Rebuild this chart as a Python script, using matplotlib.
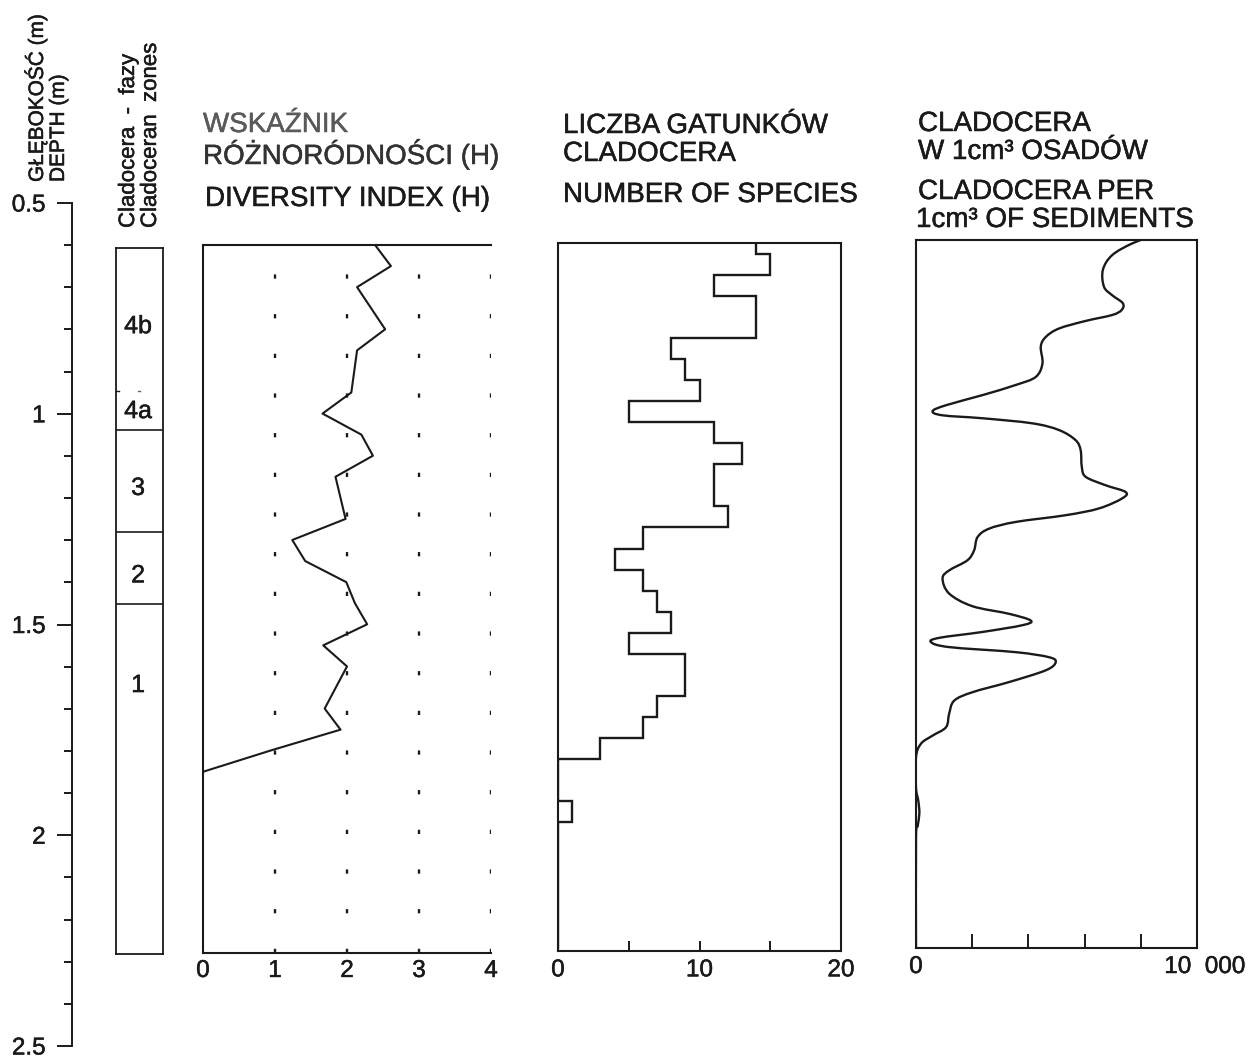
import matplotlib
matplotlib.use("Agg")
import matplotlib.pyplot as plt
import matplotlib.transforms as mtransforms
import matplotlib.patheffects as pe
from matplotlib.path import Path
from matplotlib.patches import PathPatch
from matplotlib.ticker import MultipleLocator

plt.rcParams['font.family'] = ['Liberation Sans', 'DejaVu Sans']

# ---------------- data ----------------
depth_ticks = [0.5, 1.0, 1.5, 2.0, 2.5]
depth_tick_labels = ['0.5', '1', '1.5', '2', '2.5']

zone_names = ['4b', '4a', '3', '2', '1']
zone_label_depths = [0.786, 0.988, 1.171, 1.379, 1.640]
zone_boundaries = [1.033, 1.276, 1.448]
zone_sub_boundary = 0.940

diversity_depth = [0.60, 0.65, 0.70, 0.80, 0.85, 0.95, 1.00, 1.05, 1.10, 1.15,
                   1.25, 1.30, 1.35, 1.40, 1.45, 1.50, 1.55, 1.60, 1.70, 1.75,
                   1.80, 1.85]
diversity_h = [2.39, 2.61, 2.14, 2.53, 2.14, 2.06, 1.66, 2.20, 2.36, 1.84,
               1.98, 1.24, 1.42, 1.99, 2.11, 2.28, 1.67, 2.00, 1.69, 1.91,
               0.93, 0.00]
diversity_ticks = [0, 1, 2, 3, 4]

species_depth = [0.60, 0.65, 0.70, 0.75, 0.80, 0.85, 0.90, 0.95, 1.00, 1.05,
                 1.10, 1.15, 1.20, 1.25, 1.30, 1.35, 1.40, 1.45, 1.50, 1.55,
                 1.60, 1.65, 1.70, 1.75, 1.80, 1.85, 1.90, 1.95, 2.00, 2.05,
                 2.10, 2.15, 2.20, 2.25]
species_count = [14, 15, 11, 14, 14, 8, 9, 10, 5, 11,
                 13, 11, 11, 12, 6, 4, 6, 7, 8, 5,
                 9, 9, 7, 6, 3, 0, 0, 1, 0, 0,
                 0, 0, 0, 0]
species_ticks = [0, 10, 20]
species_minor = [5, 15]

clad_depth = [0.588, 0.608, 0.636, 0.671, 0.711, 0.731, 0.750, 0.766, 0.778, 0.792,
              0.810, 0.830, 0.853, 0.893, 0.925, 0.944, 0.968, 0.992, 1.006, 1.016,
              1.023, 1.035, 1.051, 1.075, 1.099, 1.138, 1.162, 1.182, 1.198, 1.213,
              1.237, 1.253, 1.269, 1.285, 1.305, 1.336, 1.360, 1.384, 1.403, 1.439,
              1.469, 1.487, 1.503, 1.514, 1.530, 1.544, 1.554, 1.566, 1.578, 1.590,
              1.602, 1.621, 1.649, 1.673, 1.693, 1.724, 1.756, 1.776, 1.795, 1.827,
              1.900, 1.930, 1.960, 1.990, 2.020, 2.280]
clad_per_cm3 = [8530, 7700, 6980, 6650, 6690, 6980, 7360, 7320, 6980, 6040,
                5090, 4620, 4440, 4500, 4260, 3550, 2370, 1070, 590, 945,
                2370, 4140, 5090, 5680, 5860, 5900, 6040, 6750, 7460, 7340,
                6510, 5330, 3550, 2600, 2190, 2070, 1830, 1180, 945, 1180,
                2010, 3310, 4085, 3790, 2370, 830, 530, 1180, 3550, 4735,
                4970, 4620, 3310, 2010, 1360, 1180, 1070, 590, 180, 0,
                0, 80, 120, 60, 0, 0]
clad_minor = [2000, 4000, 6000, 8000]

headers = [
    (203, 132, 'WSKAŹNIK', '#5a5a5a'),
    (203, 164, 'RÓŻNORÓDNOŚCI (H)', '#333333'),
    (205, 206, 'DIVERSITY INDEX (H)', '#1a1a1a'),
    (563, 133, 'LICZBA GATUNKÓW', '#1a1a1a'),
    (563, 161, 'CLADOCERA', '#1a1a1a'),
    (563, 202, 'NUMBER OF SPECIES', '#1a1a1a'),
    (918, 131, 'CLADOCERA', '#1a1a1a'),
    (918, 159, 'W 1cm³ OSADÓW', '#1a1a1a'),
    (918, 199, 'CLADOCERA PER', '#1a1a1a'),
    (916, 227, '1cm³ OF SEDIMENTS', '#1a1a1a'),
]
vertical_labels = [
    (43, 182, 'GŁĘBOKOŚĆ (m)', 15),
    (64, 182, 'DEPTH (m)', 15),
    (134, 228, 'Cladocera  -  fazy', 16),
    (156, 228, 'Cladoceran  zones', 16),
]

# ---------------- figure ----------------
W, H = 1259, 1062
fig = plt.figure(figsize=(W / 100, H / 100), dpi=100)
INK = '#1a1a1a'
LW = 1.5
FS_TICK = 17.5
FS_HEAD = 20
STROKE = 0.35
BOLDISH = [pe.withStroke(linewidth=STROKE, foreground=INK)]


def add_ax(x0, y0, x1, y1):
    return fig.add_axes([x0 / W, 1 - y1 / H, (x1 - x0) / W, (y1 - y0) / H])


def frame(ax, lw=LW):
    for s in ax.spines.values():
        s.set_linewidth(lw)
        s.set_color(INK)


def heavy_labels(ax):
    for lbl in ax.get_xticklabels() + ax.get_yticklabels():
        lbl.set_path_effects(BOLDISH)


def smooth_path(xs, ys):
    # cubic Bezier (Catmull-Rom) through the traced points
    pts = list(zip(xs, ys))
    verts = [pts[0]]
    codes = [Path.MOVETO]
    n = len(pts)
    for i in range(n - 1):
        p0 = pts[i - 1] if i > 0 else pts[i]
        p1 = pts[i]
        p2 = pts[i + 1]
        p3 = pts[i + 2] if i + 2 < n else pts[i + 1]
        c1 = (p1[0] + (p2[0] - p0[0]) / 6.0, p1[1] + (p2[1] - p0[1]) / 6.0)
        c2 = (p2[0] - (p3[0] - p1[0]) / 6.0, p2[1] - (p3[1] - p1[1]) / 6.0)
        verts += [c1, c2, p2]
        codes += [Path.CURVE4] * 3
    return Path(verts, codes)


# depth axis
axd = add_ax(72, 203, 74, 1046)
for s in ['top', 'right', 'bottom']:
    axd.spines[s].set_visible(False)
axd.spines['left'].set_linewidth(1.4)
axd.spines['left'].set_color(INK)
axd.patch.set_visible(False)
axd.set_ylim(2.5, 0.5)
axd.set_xticks([])
axd.set_yticks(depth_ticks)
axd.set_yticklabels(depth_tick_labels)
axd.yaxis.set_minor_locator(MultipleLocator(0.1))
axd.tick_params(axis='y', which='major', length=11, width=1.4, pad=8,
                labelsize=FS_TICK, colors=INK)
axd.tick_params(axis='y', which='minor', length=6, width=1.4, colors=INK)
heavy_labels(axd)

# zones column
axz = add_ax(116, 248, 163, 954)
frame(axz, 1.3)
axz.set_xlim(0, 1)
axz.set_ylim(2.28, 0.6)
axz.set_xticks([])
axz.set_yticks([])
for b in zone_boundaries:
    axz.axhline(b, color=INK, lw=1.2)
axz.plot([0.0, 0.06], [zone_sub_boundary] * 2, color=INK, lw=1.0)
axz.plot([0.46, 0.52], [zone_sub_boundary] * 2, color='#666666', lw=1.0)
for name, d in zip(zone_names, zone_label_depths):
    axz.text(0.47, d, name, ha='center', va='center', fontsize=FS_TICK + 0.5,
             color=INK, path_effects=BOLDISH)

# diversity index
axh = add_ax(203, 245, 491, 953)
frame(axh)
axh.spines['right'].set_visible(False)
axh.set_xlim(0, 4)
axh.set_ylim(2.28, 0.6)
for v in diversity_ticks[1:]:
    axh.axvline(v, color=INK, lw=1.7, ls=(0, (1.8, 15)))
axh.plot(diversity_h, diversity_depth, color=INK, lw=1.5)
axh.set_xticks(diversity_ticks)
axh.set_xticklabels([str(t) for t in diversity_ticks])
axh.set_yticks([])
axh.tick_params(axis='x', length=0, pad=5, labelsize=FS_TICK, colors=INK)
heavy_labels(axh)

# number of species
axs = add_ax(558, 243, 841, 951)
frame(axs)
axs.set_xlim(0, 20)
axs.set_ylim(2.28, 0.6)
edges = [d - 0.025 for d in species_depth] + [species_depth[-1] + 0.025]
axs.stairs(species_count, edges, orientation='horizontal', baseline=None,
           color=INK, lw=1.7)
axs.set_xticks(species_ticks)
axs.set_xticklabels([str(t) for t in species_ticks])
axs.set_xticks(species_minor, minor=True)
axs.set_yticks([])
axs.tick_params(axis='x', which='both', direction='in', length=7, width=1.4,
                pad=6, labelsize=FS_TICK, colors=INK)
heavy_labels(axs)

# cladocera per cm3
axc = add_ax(916, 240, 1197, 948)
frame(axc)
axc.set_xlim(0, 10000)
axc.set_ylim(2.28, 0.6)
axc.add_patch(PathPatch(smooth_path(clad_per_cm3, clad_depth), fill=False,
                        edgecolor=INK, lw=1.7, joinstyle='round'))
axc.set_xticks([])
axc.set_xticks(clad_minor, minor=True)
axc.set_yticks([])
axc.tick_params(axis='x', which='minor', direction='in', length=10, width=1.4,
                colors=INK)
trans = mtransforms.blended_transform_factory(axc.transData, axc.transAxes)
axc.text(0, 0, '0', transform=trans + mtransforms.ScaledTranslation(0, -0.08, fig.dpi_scale_trans),
         ha='center', va='top', fontsize=FS_TICK, color=INK, path_effects=BOLDISH)
axc.text(10000, 0, '10  000', transform=trans + mtransforms.ScaledTranslation(0.08, -0.08, fig.dpi_scale_trans),
         ha='center', va='top', fontsize=FS_TICK, color=INK, path_effects=BOLDISH)

# header texts
for x, y, t, c in headers:
    fig.text(x / W, 1 - y / H, t, ha='left', va='baseline', fontsize=FS_HEAD, color=c,
             path_effects=[pe.withStroke(linewidth=STROKE, foreground=c)])

for x, y, t, fs in vertical_labels:
    fig.text(x / W, 1 - y / H, t, rotation=90, rotation_mode='anchor',
             ha='left', va='baseline', fontsize=fs, color=INK, path_effects=BOLDISH)

fig.savefig('out.png', dpi=100, facecolor='white')
